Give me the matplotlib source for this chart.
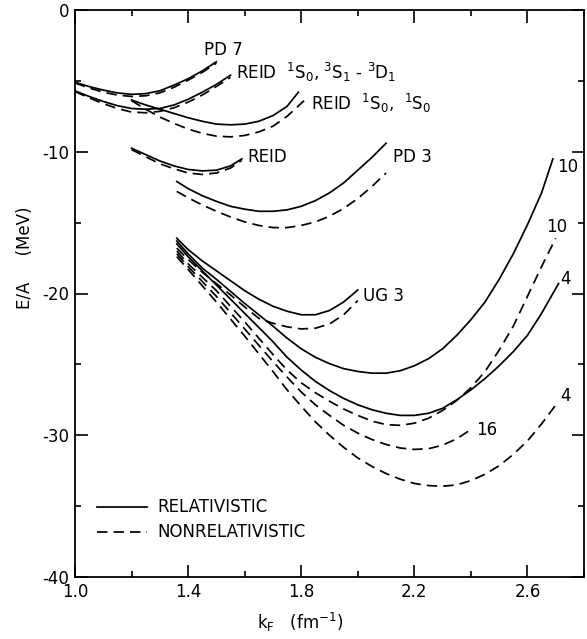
import numpy as np
import matplotlib
matplotlib.use("Agg")
import matplotlib.pyplot as plt
from matplotlib.ticker import MultipleLocator

# values, (k_F [fm^-1], E/A [MeV])
pd7_k = [1.0, 1.05, 1.1, 1.15, 1.2, 1.25, 1.3, 1.35, 1.4, 1.45, 1.5]
pd7_rel = [-5.1, -5.4, -5.65, -5.85, -5.95, -5.9, -5.7, -5.3, -4.85, -4.3, -3.65]
pd7_non = [-5.15, -5.5, -5.8, -6.0, -6.1, -6.05, -5.85, -5.45, -4.95, -4.4, -3.75]

reid_a_k = [1.0, 1.05, 1.1, 1.15, 1.2, 1.25, 1.3, 1.35, 1.4, 1.45, 1.5, 1.55]
reid_a_rel = [-5.7, -6.1, -6.45, -6.75, -6.95, -7.0, -6.95, -6.7, -6.3, -5.8, -5.25, -4.6]
reid_a_non = [-5.75, -6.2, -6.6, -6.95, -7.2, -7.25, -7.15, -6.9, -6.5, -6.0, -5.4, -4.75]

reid_b_k_rel = [1.2, 1.25, 1.3, 1.35, 1.4, 1.45, 1.5, 1.55, 1.6, 1.65, 1.7, 1.75, 1.79]
reid_b_rel = [-6.35, -6.7, -7.0, -7.3, -7.6, -7.85, -8.05, -8.1, -8.05, -7.85, -7.45, -6.8, -5.8]
reid_b_k_non = [1.2, 1.25, 1.3, 1.35, 1.4, 1.45, 1.5, 1.55, 1.6, 1.65, 1.7, 1.75, 1.81]
reid_b_non = [-6.4, -7.0, -7.55, -8.0, -8.4, -8.7, -8.9, -8.95, -8.85, -8.6, -8.2, -7.5, -6.4]

reid_c_k = [1.2, 1.25, 1.3, 1.35, 1.4, 1.45, 1.5, 1.55, 1.59]
reid_c_rel = [-9.75, -10.2, -10.65, -11.0, -11.25, -11.35, -11.3, -11.0, -10.5]
reid_c_non = [-9.85, -10.35, -10.85, -11.2, -11.5, -11.6, -11.5, -11.15, -10.6]

pd3_k = [1.36, 1.4, 1.45, 1.5, 1.55, 1.6, 1.65, 1.7, 1.75, 1.8, 1.85, 1.9, 1.95, 2.0, 2.05, 2.1]
pd3_rel = [-12.1, -12.6, -13.1, -13.5, -13.85, -14.05, -14.2, -14.2, -14.1, -13.85,
           -13.45, -12.9, -12.2, -11.3, -10.4, -9.4]
pd3_non = [-12.8, -13.25, -13.75, -14.2, -14.6, -14.95, -15.2, -15.35, -15.35, -15.2,
           -14.95, -14.55, -14.0, -13.3, -12.45, -11.5]

ug3_k = [1.36, 1.4, 1.45, 1.5, 1.55, 1.6, 1.65, 1.7, 1.75, 1.8, 1.85, 1.9, 1.95, 2.0]
ug3_rel = [-16.1, -16.9, -17.7, -18.4, -19.1, -19.8, -20.4, -20.9, -21.25, -21.5,
           -21.5, -21.2, -20.6, -19.75]
ug3_non = [-16.8, -17.6, -18.5, -19.3, -20.1, -20.95, -21.75, -22.1, -22.35, -22.5,
           -22.45, -22.15, -21.5, -20.5]

r10_k = [1.36, 1.4, 1.45, 1.5, 1.55, 1.6, 1.65, 1.7, 1.75, 1.8, 1.85, 1.9, 1.95, 2.0,
         2.05, 2.1, 2.15, 2.2, 2.25, 2.3, 2.35, 2.4, 2.45, 2.5, 2.55, 2.6, 2.65, 2.69]
r10_e = [-16.3, -17.2, -18.2, -19.0, -19.85, -20.7, -21.5, -22.3, -23.15, -23.9,
         -24.5, -24.95, -25.3, -25.5, -25.62, -25.62, -25.45, -25.1, -24.6, -23.9,
         -22.95, -21.85, -20.6, -19.0, -17.2, -15.15, -12.9, -10.5]

r4_k = [1.36, 1.4, 1.45, 1.5, 1.55, 1.6, 1.65, 1.7, 1.75, 1.8, 1.85, 1.9, 1.95, 2.0,
        2.05, 2.1, 2.15, 2.2, 2.25, 2.3, 2.35, 2.4, 2.45, 2.5, 2.55, 2.6, 2.65, 2.71]
r4_e = [-16.5, -17.4, -18.4, -19.4, -20.4, -21.4, -22.4, -23.4, -24.5, -25.4,
        -26.2, -26.85, -27.4, -27.85, -28.2, -28.45, -28.6, -28.6, -28.45, -28.1,
        -27.5, -26.8, -26.0, -25.1, -24.1, -22.95, -21.4, -19.3]

n10_k = [1.36, 1.4, 1.45, 1.5, 1.55, 1.6, 1.65, 1.7, 1.75, 1.8, 1.85, 1.9, 1.95, 2.0,
         2.05, 2.1, 2.15, 2.2, 2.25, 2.3, 2.35, 2.4, 2.45, 2.5, 2.55, 2.6, 2.65, 2.70]
n10_e = [-17.0, -17.9, -18.85, -19.8, -20.9, -22.0, -23.15, -24.3, -25.4, -26.3,
         -27.0, -27.6, -28.15, -28.6, -29.0, -29.25, -29.3, -29.15, -28.8, -28.25,
         -27.55, -26.65, -25.5, -24.0, -22.3, -20.2, -18.1, -16.1]

n16_k = [1.36, 1.4, 1.45, 1.5, 1.55, 1.6, 1.65, 1.7, 1.75, 1.8, 1.85, 1.9, 1.95, 2.0,
         2.05, 2.1, 2.15, 2.2, 2.25, 2.3, 2.35, 2.4]
n16_e = [-17.2, -18.1, -19.15, -20.2, -21.35, -22.5, -23.65, -24.8, -25.9, -26.95,
         -27.85, -28.6, -29.3, -29.85, -30.3, -30.65, -30.9, -31.0, -30.95, -30.7,
         -30.25, -29.6]

n4_k = [1.36, 1.4, 1.45, 1.5, 1.55, 1.6, 1.65, 1.7, 1.75, 1.8, 1.85, 1.9, 1.95, 2.0,
        2.05, 2.1, 2.15, 2.2, 2.25, 2.3, 2.35, 2.4, 2.45, 2.5, 2.55, 2.6, 2.65, 2.71]
n4_e = [-17.4, -18.3, -19.45, -20.6, -21.8, -23.0, -24.25, -25.5, -26.8, -27.95,
        -29.05, -30.0, -30.85, -31.6, -32.2, -32.7, -33.1, -33.4, -33.55, -33.6,
        -33.5, -33.2, -32.75, -32.15, -31.35, -30.4, -29.2, -27.6]

SOLID = dict(color="black", lw=1.25, ls="-", solid_joinstyle="round")
DASH = dict(color="black", lw=1.25, ls=(0, (6, 3.5)))

fig = plt.figure(figsize=(5.87, 6.39), dpi=100)
ax = fig.add_axes([75 / 587, 1 - 577 / 639, 509 / 587, 567 / 639])

ax.plot(pd7_k, pd7_rel, **SOLID)
ax.plot(pd7_k, pd7_non, **DASH)
ax.plot(reid_a_k, reid_a_rel, **SOLID)
ax.plot(reid_a_k, reid_a_non, **DASH)
ax.plot(reid_b_k_rel, reid_b_rel, **SOLID)
ax.plot(reid_b_k_non, reid_b_non, **DASH)
ax.plot(reid_c_k, reid_c_rel, **SOLID)
ax.plot(reid_c_k, reid_c_non, **DASH)
ax.plot(pd3_k, pd3_rel, **SOLID)
ax.plot(pd3_k, pd3_non, **DASH)
ax.plot(ug3_k, ug3_rel, **SOLID)
ax.plot(ug3_k, ug3_non, **DASH)
ax.plot(r10_k, r10_e, **SOLID)
ax.plot(r4_k, r4_e, **SOLID)
ax.plot(n10_k, n10_e, **DASH)
ax.plot(n16_k, n16_e, **DASH)
ax.plot(n4_k, n4_e, **DASH)

fs = 12
ax.text(1.455, -2.8, "PD 7", fontsize=fs, va="center")
ax.text(1.57, -4.4, r"REID  $^{\mathregular{1}}$S$_{\mathregular{0}}$, $^{\mathregular{3}}$S$_{\mathregular{1}}$ - $^{\mathregular{3}}$D$_{\mathregular{1}}$",
        fontsize=fs, va="center")
ax.text(1.835, -6.6, r"REID  $^{\mathregular{1}}$S$_{\mathregular{0}}$,  $^{\mathregular{1}}$S$_{\mathregular{0}}$",
        fontsize=fs, va="center")
ax.text(1.61, -10.4, "REID", fontsize=fs, va="center")
ax.text(2.125, -10.4, "PD 3", fontsize=fs, va="center")
ax.text(2.02, -20.2, "UG 3", fontsize=fs, va="center")
ax.text(2.705, -11.1, "10", fontsize=fs, va="center")
ax.text(2.665, -15.3, "10", fontsize=fs, va="center")
ax.text(2.715, -19.0, "4", fontsize=fs, va="center")
ax.text(2.42, -29.6, "16", fontsize=fs, va="center")
ax.text(2.715, -27.2, "4", fontsize=fs, va="center")

# legend drawn by hand like the original
ax.plot([1.078, 1.254], [-35.05, -35.05], **SOLID)
ax.plot([1.078, 1.254], [-36.8, -36.8], **DASH)
ax.text(1.29, -35.05, "RELATIVISTIC", fontsize=fs, va="center")
ax.text(1.29, -36.8, "NONRELATIVISTIC", fontsize=fs, va="center")

ax.set_xlim(1.0, 2.8)
ax.set_ylim(-40, 0)
ax.xaxis.set_minor_locator(MultipleLocator(0.2))
ax.yaxis.set_minor_locator(MultipleLocator(5))
ax.set_xticks([1.0, 1.4, 1.8, 2.2, 2.6])
ax.set_xticklabels(["1.0", "1.4", "1.8", "2.2", "2.6"])
ax.set_yticks([0, -10, -20, -30, -40])
ax.set_yticklabels(["0", "-10", "-20", "-30", "-40"])
ax.tick_params(which="major", direction="in", length=9, width=1.2,
               top=True, right=True, labelsize=12, pad=4)
ax.tick_params(which="minor", direction="in", length=4.5, width=1.2,
               top=True, right=True)
for s in ax.spines.values():
    s.set_linewidth(1.3)

fig.text(300 / 587, 1 - 622 / 639, r"k$_{\mathregular{F}}$   (fm$^{\mathregular{-1}}$)",
         fontsize=12, ha="center", va="center")
fig.text(25 / 587, 1 - 258 / 639, "E/A     (MeV)", fontsize=12, rotation=90,
         ha="center", va="center")

fig.savefig("out.png", dpi=100)
